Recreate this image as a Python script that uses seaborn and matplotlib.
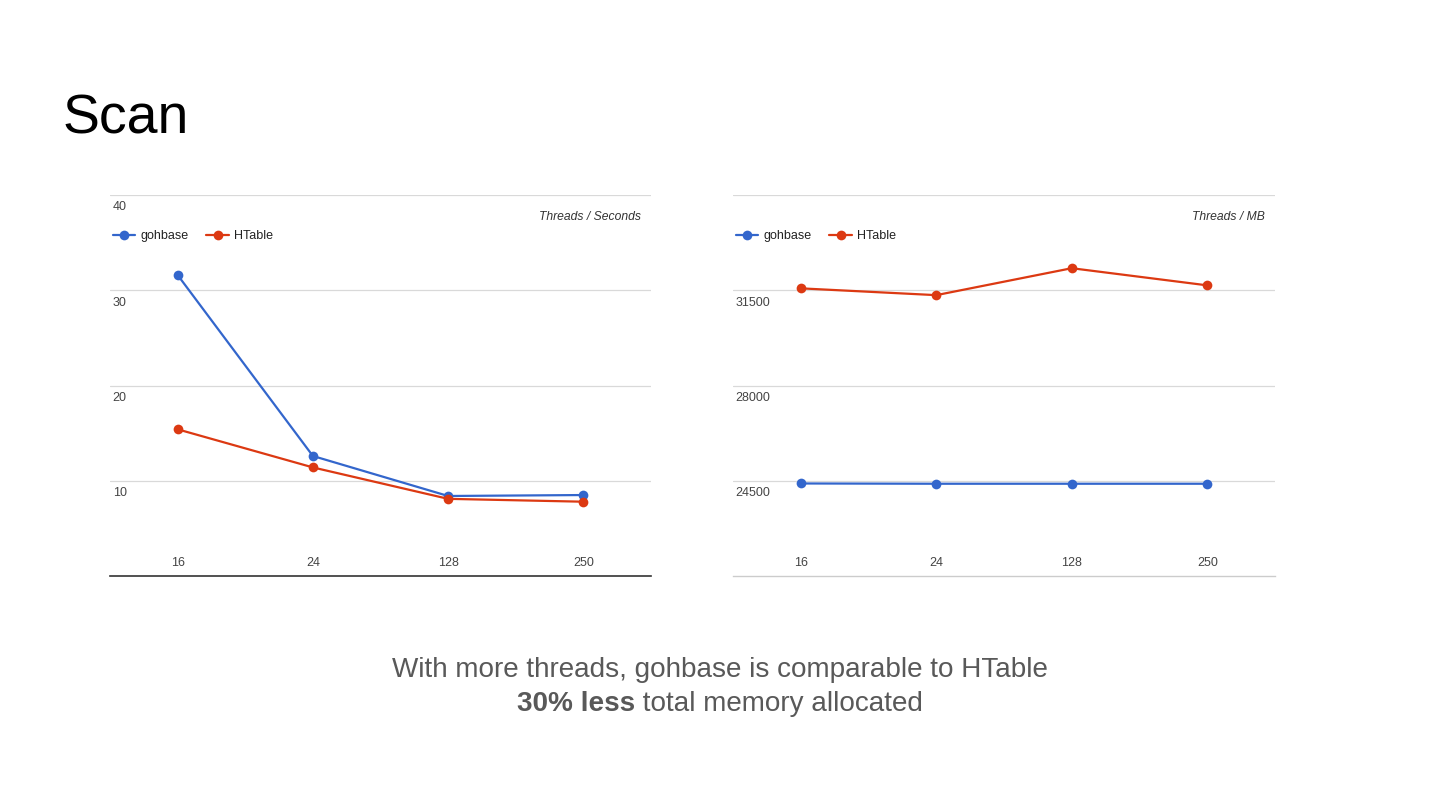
import matplotlib
matplotlib.use("Agg")
import matplotlib.pyplot as plt
import seaborn as sns
import pandas as pd
import matplotlib.transforms as mtransforms

sns.set_theme(style="white")
plt.rcParams['font.family'] = ['Liberation Sans', 'DejaVu Sans']

threads = ["16", "24", "128", "250"]
series_names = ["gohbase", "HTable"]
time_gohbase = [31.6, 12.6, 8.4, 8.5]
time_htable = [15.4, 11.4, 8.1, 7.8]
mem_gohbase = [24400, 24390, 24390, 24390]
mem_htable = [31570, 31320, 32310, 31680]
time_ticks = [10, 20, 30, 40]
mem_ticks = [24500, 28000, 31500]
colors = ["#3366cc", "#dc3912"]

def make_df(a, b):
    return pd.DataFrame({
        "threads": threads * 2,
        "value": a + b,
        "series": [series_names[0]] * len(threads) + [series_names[1]] * len(threads),
    })

fig = plt.figure(figsize=(14.4, 8.1), dpi=100)
W, H = 1440, 810

def axes_px(x0, y0, x1, y1):
    return fig.add_axes([x0 / W, 1 - y1 / H, (x1 - x0) / W, (y1 - y0) / H])

ax1 = axes_px(110, 195, 651, 576)
ax2 = axes_px(733, 195, 1275, 576)

def draw(ax, df, ymin, ymax, ticks, subtitle, bottom_color):
    sns.lineplot(data=df, x="threads", y="value", hue="series", palette=colors,
                 marker="o", markersize=7, markeredgewidth=0, linewidth=1.6,
                 ax=ax, sort=False)
    ax.set_xlim(-0.5, len(threads) - 0.5)
    ax.set_ylim(ymin, ymax)
    ax.set_xlabel("")
    ax.set_ylabel("")
    for s in ["left", "right", "top"]:
        ax.spines[s].set_visible(False)
    ax.spines["bottom"].set_color(bottom_color)
    ax.spines["bottom"].set_linewidth(1.2 if bottom_color == "#333333" else 1.0)
    for t in sorted(set(list(ticks) + [ymax])):
        ax.axhline(t, color="#d9d9d9", linewidth=0.9, zorder=0)
    ax.set_yticks([])
    trans = mtransforms.blended_transform_factory(ax.transAxes, ax.transData)
    for t in ticks:
        ax.annotate(str(t), xy=(0.005, t), xycoords=trans, xytext=(0, -4.5),
                    textcoords="offset points", ha="left", va="top",
                    fontsize=9, color="#444444")
    ax.tick_params(axis="x", length=0, pad=-14, labelsize=9, labelcolor="#444444")
    for lbl in ax.get_xticklabels():
        lbl.set_verticalalignment("top")
    ax.text(0.982, 0.943, subtitle, transform=ax.transAxes, ha="right", va="center",
            fontsize=8.7, style="italic", color="#333333")
    ax.legend(loc="center left", bbox_to_anchor=(-0.016, 0.892), ncol=2,
              frameon=False, fontsize=9, handlelength=1.8, columnspacing=1.4,
              handletextpad=0.45, labelcolor="#222222")
    ax.set_facecolor("white")

draw(ax1, make_df(time_gohbase, time_htable), 0, 40, time_ticks,
     "Threads / Seconds", "#333333")
draw(ax2, make_df(mem_gohbase, mem_htable), 21000, 35000, mem_ticks,
     "Threads / MB", "#cccccc")

fig.text(63 / W, 1 - 120 / H, "Scan", fontsize=40, ha="left", va="center", color="black")

fs = 20.1
fig.text(719.5 / W, 1 - 670 / H, "With more threads, gohbase is comparable to HTable",
         fontsize=fs, ha="center", va="center", color="#595959")
t_bold = fig.text(517 / W, 1 - 704 / H, "30% less", fontsize=fs, ha="left",
                  va="center", color="#595959", fontweight="bold")
fig.canvas.draw()
bb = t_bold.get_window_extent()
fig.text(bb.x1 / W, 1 - 704 / H, " total memory allocated", fontsize=fs, ha="left",
         va="center", color="#595959")

fig.savefig("out.png", dpi=100, facecolor="white")
